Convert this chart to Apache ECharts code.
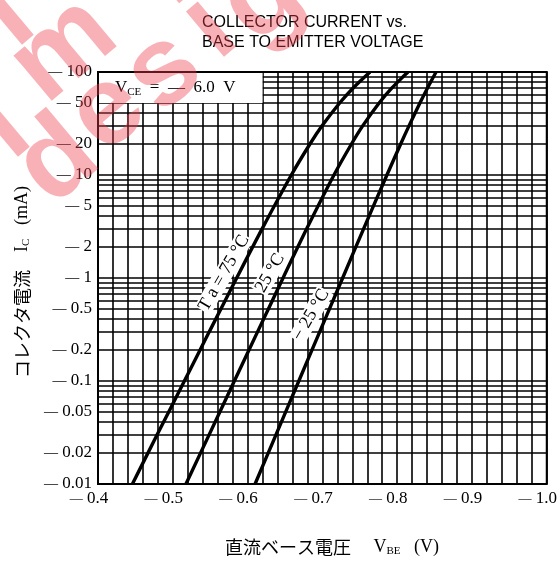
<!DOCTYPE html>
<html>
<head>
<meta charset="utf-8">
<script src="https://cdn.jsdelivr.net/npm/echarts@6/dist/echarts.min.js"></script>
<style>
  html, body { margin: 0; padding: 0; background: #fff; }
  #chart { width: 560px; height: 562px; }
</style>
</head>
<body>
<div id="chart"></div>
<script>
// Collector current (mA) and base-emitter voltage (V) for three ambient temperatures
const icSteps = [0.01, 0.03, 0.1, 0.3, 1, 3, 10, 20, 30, 50, 70, 100];
const vbe75   = [-0.446, -0.479, -0.5155, -0.5487, -0.5854, -0.6194, -0.6585, -0.6834, -0.6996, -0.7231, -0.7412, -0.7637];
const vbe25   = [-0.5176, -0.5485, -0.5823, -0.6133, -0.6474, -0.679, -0.7155, -0.7389, -0.7539, -0.7759, -0.793, -0.8144];
const vbeM25  = [-0.610, -0.6379, -0.6685, -0.6964, -0.7271, -0.7551, -0.7863, -0.8047, -0.8158, -0.8304, -0.8406, -0.852];

// Axis tick labels
const xTickLabels = [-0.4, -0.5, -0.6, -0.7, -0.8, -0.9, -1.0];
const yTickLabels = [0.01, 0.02, 0.05, 0.1, 0.2, 0.5, 1, 2, 5, 10, 20, 50, 100];
const yDecades = [0.01, 0.1, 1, 10];
const yMultipliers = [1, 2, 3, 4, 5, 6, 7, 8, 9];

// Text
const titleText = 'COLLECTOR CURRENT vs.\nBASE TO EMITTER VOLTAGE';
const curveLabels = ['T a = 75 °C', '25 °C', '− 25 °C'];

const serif = "'Liberation Serif', 'DejaVu Serif', serif";
const sans = "'Liberation Sans', Arial, sans-serif";
const cjk = "'Noto Sans CJK JP', sans-serif";

const pair = (xs, ys) => xs.map((x, i) => [x, ys[i]]);
const near = (a, b) => Math.abs(a - b) < 1e-9 * Math.max(1, Math.abs(b));

// log-paper rulings: 1..9 in every decade, plus the top line
const yGridValues = [];
yDecades.forEach(d => yMultipliers.forEach(m => yGridValues.push(+(d * m).toPrecision(6))));
yGridValues.push(100);

const gridLine = { color: '#000', width: 1.6, type: 'solid' };
const curveStyle = { color: '#000', width: 3.4 };

const chart = echarts.init(document.getElementById('chart'), null, { renderer: 'canvas' });

chart.setOption({
  animation: false,
  backgroundColor: '#fff',
  grid: { left: 98, right: 13, top: 72, bottom: 78, show: true, borderColor: '#000', borderWidth: 2, backgroundColor: 'transparent' },
  xAxis: {
    type: 'value', min: -1.0, max: -0.4, interval: 0.02, inverse: true,
    axisLine: { show: false }, axisTick: { show: false },
    splitLine: { show: true, lineStyle: gridLine },
    axisLabel: {
      interval: 0, margin: 6, color: '#000', fontFamily: serif, fontSize: 17,
      padding: [0, 18, 0, 0],
      formatter: v => xTickLabels.some(t => near(t, v)) ? '{d|—} ' + Math.abs(v).toFixed(1) : '',
      rich: { d: { fontSize: 13, fontFamily: serif, color: '#000' } }
    }
  },
  yAxis: {
    type: 'log', logBase: 10, min: 0.01, max: 100,
    axisLine: { show: false }, axisTick: { show: false },
    axisLabel: { show: false }, splitLine: { show: false }
  },
  series: [
    {
      type: 'line', name: 'rulings', data: [], silent: true, z: 1,
      markLine: {
        silent: true, symbol: ['none', 'none'], animation: false,
        lineStyle: gridLine,
        emphasis: { disabled: true },
        label: {
          position: 'end', distance: 6, color: '#000', fontFamily: serif, fontSize: 17,
          rich: { d: { fontSize: 14, fontFamily: serif, color: '#000' } }
        },
        data: yGridValues.map(v => {
          const lab = yTickLabels.find(t => near(t, v));
          return {
            yAxis: v,
            label: lab !== undefined ? { show: true, formatter: '{d|—} ' + String(lab) } : { show: false }
          };
        })
      }
    },
    { type: 'line', name: '75', data: pair(vbe75, icSteps), showSymbol: false, smooth: 0.3, z: 3, lineStyle: curveStyle },
    { type: 'line', name: '25', data: pair(vbe25, icSteps), showSymbol: false, smooth: 0.3, z: 3, lineStyle: curveStyle },
    { type: 'line', name: '-25', data: pair(vbeM25, icSteps), showSymbol: false, smooth: 0.3, z: 3, lineStyle: curveStyle }
  ]
});

const px = (v, i) => chart.convertToPixel({ gridIndex: 0 }, [v, i]);
const boxA = px(-0.4, 100), boxB = px(-0.62, 50);
const rad = d => d * Math.PI / 180;

// watermark letters
const wm = [
  ['m', 64, 50], ['d', 58, 162], ['e', 108, 112], ['s', 164, 72], ['i', 210, 28], ['g', 262, 0], ['l', 4, 128], ['i', 8, 16]
];

const curveLabelStyle = { font: '18px ' + serif, fill: '#000', align: 'center', verticalAlign: 'middle', backgroundColor: '#fff', padding: [0, 1] };
const sub = { font: '11px ' + serif, fill: '#000', lineHeight: 20, padding: [9, 0, 0, 0] };

const graphics = [
  // title
  { type: 'text', left: 202, top: 13, z: 10,
    style: { text: titleText, font: '16px ' + sans, fill: '#000', lineHeight: 20 } },
  // condition box
  { type: 'rect', z: 10, shape: { x: boxA[0] + 1, y: boxA[1] + 1, width: boxB[0] - boxA[0] - 1, height: boxB[1] - boxA[1] - 1 },
    style: { fill: '#fff' } },
  { type: 'text', z: 11, x: boxA[0] + 17, y: (boxA[1] + boxB[1]) / 2,
    style: {
      text: '{v|V}{s|CE}{v|  =  —  6.0  V}', verticalAlign: 'middle', align: 'left',
      rich: { v: { font: '17px ' + serif, fill: '#000', lineHeight: 20 }, s: sub }
    } },
  // curve labels
  { type: 'text', z: 11, x: 224, y: 273, rotation: rad(60), style: Object.assign({ text: curveLabels[0] }, curveLabelStyle) },
  { type: 'text', z: 11, x: 270, y: 273, rotation: rad(60), style: Object.assign({ text: curveLabels[1] }, curveLabelStyle) },
  { type: 'text', z: 11, x: 311, y: 315, rotation: rad(60), style: Object.assign({ text: curveLabels[2] }, curveLabelStyle) },
  // y axis name
  { type: 'text', z: 11, x: 22, y: 282, rotation: Math.PI / 2,
    style: {
      text: '{c|コレクタ電流}{l|    I}{s|C}{l|   (mA)}', align: 'center', verticalAlign: 'middle',
      rich: { c: { font: '18px ' + cjk, fill: '#000', lineHeight: 20 },
              l: { font: '18px ' + serif, fill: '#000', lineHeight: 20 }, s: sub }
    } },
  // x axis name
  { type: 'text', z: 11, x: 332, y: 547,
    style: {
      text: '{c|直流ベース電圧}{l|     V}{s|BE}{l|   (V)}', align: 'center', verticalAlign: 'middle',
      rich: { c: { font: '18px ' + cjk, fill: '#000', lineHeight: 20 },
              l: { font: '18px ' + serif, fill: '#000', lineHeight: 20 }, s: sub }
    } }
];

wm.forEach(([ch, x, y]) => graphics.push({
  type: 'text', z: 50, x, y, rotation: rad(40),
  style: { text: ch, font: 'bold 112px ' + sans, fill: 'rgba(238,60,75,0.4)', align: 'center', verticalAlign: 'middle' }
}));

chart.setOption({ graphic: graphics });
</script>
</body>
</html>
